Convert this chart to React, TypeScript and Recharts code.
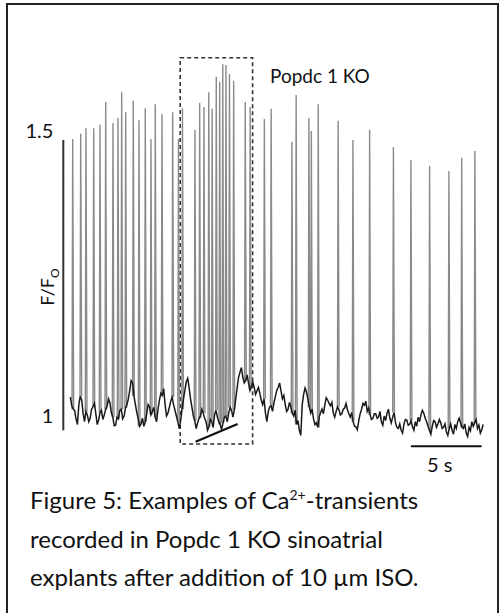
import { LineChart, Line, XAxis, YAxis, ReferenceLine, ReferenceArea } from "recharts";

// Ca2+ transient trace, Popdc 1 KO + ISO
// time in s, amplitude in F/F0
const baseStart = 0.5;
const baseStep = 0.1;
const baseline = [
  1.033, 1.018, 1.012, 1.01, 0.995, 0.985, 1.02, 1.035, 1.028, 1.005,
  0.99, 1.008, 1.002, 0.99, 0.996, 1.012, 1.016, 1.022, 1.004, 0.985,
  0.993, 1.006, 1.01, 0.994, 1.002, 1.012, 1.018, 1.03, 1.023, 1.006,
  0.998, 0.983, 0.984, 0.998, 0.995, 1.01, 1.012, 0.995, 1.0, 1.014,
  1.02, 1.03, 1.045, 1.062, 1.058, 1.035, 1.02, 1.006, 0.995, 0.982,
  0.986, 0.996, 0.982, 0.99, 1.004, 1.02, 1.016, 1.002, 1.008, 1.015,
  0.998, 0.99, 1.012, 1.028, 1.04, 1.036, 1.048, 1.02, 1.0, 1.005,
  1.015, 1.026, 1.033, 1.02, 1.01, 1.0, 0.99, 0.978, 0.992, 1.012,
  1.03, 1.045, 1.06, 1.066, 1.05, 1.03, 1.015, 1.0, 0.992, 0.978,
  0.988, 0.996, 1.0, 1.012, 1.005, 0.996, 0.99, 0.975, 0.981, 0.994,
  0.99, 0.98, 1.002, 1.01, 0.998, 0.99, 0.985, 0.976, 0.988, 0.998,
  1.0, 0.99, 1.005, 1.015, 1.01, 0.998, 1.011, 1.03, 1.05, 1.068,
  1.077, 1.085, 1.068, 1.058, 1.062, 1.072, 1.058, 1.045, 1.052, 1.06,
  1.051, 1.038, 1.044, 1.05, 1.04, 1.028, 1.02, 1.03, 1.005, 0.99,
  1.008, 1.016, 1.018, 1.008, 1.023, 1.034, 1.045, 1.05, 1.058, 1.044,
  1.03, 1.036, 1.02, 1.008, 1.012, 1.024, 1.016, 1.005, 1.0, 1.01,
  0.985, 0.992, 0.975, 0.966, 1.02, 1.038, 1.049, 1.042, 1.03, 1.016,
  1.005, 1.012, 0.995, 0.985, 0.988, 0.98, 0.998, 1.006, 1.012, 1.004,
  1.02, 1.032, 1.028, 1.022, 1.018, 1.024, 1.005, 0.998, 1.008, 1.016,
  1.011, 1.002, 1.004, 1.012, 1.014, 1.022, 1.011, 1.004, 0.998, 1.006,
  0.99, 0.982, 0.981, 0.976, 0.992, 1.004, 1.012, 1.022, 1.019, 1.026,
  1.008, 1.014, 1.002, 0.994, 0.996, 1.004, 1.004, 0.996, 0.998, 1.008,
  0.99, 0.984, 1.0, 0.992, 1.005, 1.012, 0.996, 0.988, 0.998, 1.006,
  0.988, 0.98, 0.978, 0.986, 0.975, 0.97, 0.986, 0.994, 0.993, 0.984,
  0.985, 0.992, 0.981, 0.975, 0.99, 0.982, 0.998, 0.99, 1.002, 1.01,
  1.005, 0.996, 0.99, 0.982, 0.975, 0.968, 0.982, 0.992, 0.99, 0.98,
  0.986, 0.994, 0.988, 0.978, 0.98, 0.986, 0.972, 0.966, 0.978, 0.986,
  0.975, 0.968, 0.985, 0.978, 0.99, 0.996, 0.988, 0.98, 0.978, 0.986,
  0.97, 0.964, 0.98, 0.974, 0.99, 0.982, 0.988, 0.994, 0.978, 0.984,
  0.97, 0.976, 0.985,
];

const spikeTimes = [
  0.665, 1.231, 1.605, 2.15, 2.595, 2.999, 3.515, 3.868, 4.13, 4.413,
  4.95, 5.354, 5.799, 6.202, 6.506, 6.98, 7.737, 8.147, 8.43, 9.314,
  9.646, 9.95, 10.29, 10.53, 10.82, 11.061, 11.28, 11.506, 11.754, 12.051,
  12.871, 13.218, 14.222, 14.703, 16.174, 16.471, 17.376, 17.546, 18.034, 19.441,
  20.488, 21.669, 23.352, 24.59, 25.912, 27.277, 28.182, 29.116,
];
const spikePeaks = [
  1.486, 1.495, 1.505, 1.505, 1.511, 1.551, 1.514, 1.523, 1.568, 1.533,
  1.553, 1.519, 1.54, 1.486, 1.547, 1.53, 1.533, 1.486, 1.54, 1.502,
  1.549, 1.542, 1.568, 1.539, 1.595, 1.586, 1.617, 1.616, 1.6, 1.588,
  1.551, 1.542, 1.521, 1.539, 1.481, 1.563, 1.523, 1.5, 1.547, 1.518,
  1.484, 1.502, 1.472, 1.449, 1.439, 1.43, 1.453, 1.465,
];

const yTicks = [1, 1.5];

const baseData = baseline.map((v, i) => ({ t: baseStart + i * baseStep, v }));

const footAt = (t: number) => {
  const i = Math.min(baseline.length - 1, Math.max(0, Math.round((t - baseStart) / baseStep)));
  return baseline[i];
};

const spikeData: { t: number; v: number | null }[] = [];
spikeTimes.forEach((ts, i) => {
  const foot = footAt(ts);
  spikeData.push({ t: ts - 0.05, v: foot });
  spikeData.push({ t: ts, v: spikePeaks[i] });
  spikeData.push({ t: ts + 0.07, v: foot });
  spikeData.push({ t: ts + 0.08, v: null });
});

const font = "Lato, 'Open Sans', sans-serif";

export default function App() {
  return (
    <div style={{ position: "absolute", left: 0, top: 0, width: 500, height: 613, background: "#fff", overflow: "hidden" }}>
      <div
        style={{
          position: "absolute",
          left: 6,
          top: 3,
          width: 489,
          height: 620,
          borderLeft: "2px solid #222",
          borderTop: "2px solid #222",
          borderRight: "2px solid #222",
        }}
      />
      <div style={{ position: "absolute", left: 0, top: 0 }}>
        <LineChart width={500} height={470} margin={{ top: 39.8, right: 12.6, bottom: 19.8, left: 23.3 }}>
          <XAxis dataKey="t" type="number" domain={[0, 30]} hide allowDataOverflow />
          <YAxis
            type="number"
            domain={[0.94, 1.66]}
            ticks={yTicks}
            width={40}
            axisLine={false}
            tickLine={false}
            tickMargin={4}
            allowDataOverflow
            tick={{ fill: "#111", fontSize: 20, fontFamily: font }}
            tickFormatter={(v: number) => String(v)}
          />
          <ReferenceLine
            segment={[
              { x: 0, y: 1.484 },
              { x: 0, y: 0.975 },
            ]}
            stroke="#333"
            strokeWidth={2}
          />
          <ReferenceArea
            x1={8.27}
            x2={13.39}
            y1={0.951}
            y2={1.6286}
            fill="none"
            stroke="#333"
            strokeWidth={1.6}
            strokeDasharray="4 3"
          />
          <Line
            data={spikeData}
            dataKey="v"
            type="linear"
            stroke="#8a8a8a"
            strokeWidth={1.4}
            dot={false}
            connectNulls={false}
            isAnimationActive={false}
          />
          <Line
            data={baseData}
            dataKey="v"
            type="linear"
            stroke="#1a1a1a"
            strokeWidth={1.5}
            dot={false}
            isAnimationActive={false}
          />
          <ReferenceLine
            segment={[
              { x: 9.36, y: 0.955 },
              { x: 12.33, y: 0.986 },
            ]}
            stroke="#111"
            strokeWidth={2.2}
          />
          <ReferenceLine
            segment={[
              { x: 24.59, y: 0.947 },
              { x: 29.59, y: 0.947 },
            ]}
            stroke="#111"
            strokeWidth={2}
          />
        </LineChart>
      </div>
      <div style={{ position: "absolute", left: 270, top: 64, fontFamily: font, fontSize: 19, lineHeight: "23px", color: "#111" }}>
        Popdc 1 KO
      </div>
      <div style={{ position: "absolute", left: 427, top: 453, fontFamily: font, fontSize: 20, lineHeight: "23px", color: "#111" }}>
        5 s
      </div>
      <div
        style={{
          position: "absolute",
          left: 51,
          top: 287,
          transform: "translate(-50%, -50%) rotate(-90deg)",
          fontFamily: font,
          fontSize: 18,
          lineHeight: "22px",
          color: "#111",
          whiteSpace: "nowrap",
        }}
      >
        F/F<sub style={{ fontSize: 12 }}>O</sub>
      </div>
      <div
        style={{
          position: "absolute",
          left: 30,
          top: 481,
          fontFamily: font,
          fontSize: 24,
          lineHeight: "38.5px",
          color: "#111",
          whiteSpace: "nowrap",
        }}
      >
        <div>
          Figure 5: Examples of Ca<sup style={{ fontSize: 14, lineHeight: 0 }}>2+</sup>-transients
        </div>
        <div>recorded in Popdc 1 KO sinoatrial</div>
        <div>explants after addition of 10 µm ISO.</div>
      </div>
    </div>
  );
}
